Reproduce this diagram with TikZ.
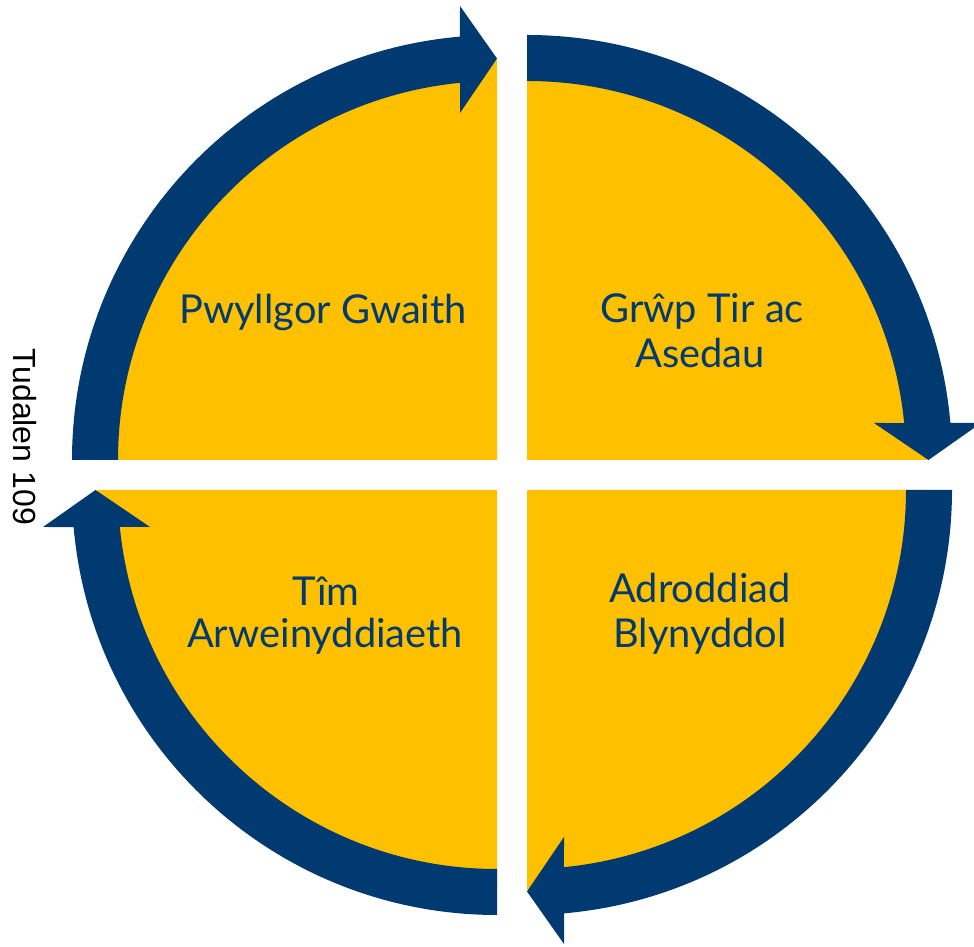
\documentclass[tikz,border=0pt]{standalone}
\usepackage{fontspec}
\setmainfont{Lato}
\newfontfamily\arialfont{Liberation Sans}
\definecolor{ringblue}{HTML}{003A70}
\definecolor{quadyellow}{HTML}{FFC000}
\tikzset{
  lbl/.style={text=ringblue, font=\fontsize{39.8}{45}\selectfont, anchor=base, inner sep=0pt},
  pagelbl/.style={text=black, font=\arialfont\fontsize{32}{38}\selectfont, anchor=base, inner sep=0pt, rotate=-90}
}
\begin{document}
\begin{tikzpicture}[x=1pt,y=1pt]
\useasboundingbox (0,0) rectangle (974,947);
\clip (0,0) rectangle (974,947);
% yellow quadrants
\foreach \cx/\cy/\rot in {497/487/0, 527/487/-90, 527/457/-180, 497/457/-270} {
  \begin{scope}[shift={(\cx,\cy)}, rotate=\rot]
    \fill[quadyellow] (0,0) -- (180:400) arc[start angle=180, end angle=90, radius=400] -- cycle;
  \end{scope}
}
% ring segments with arrowheads
\foreach \cx/\cy/\rot in {497/487/0, 527/487/-90, 527/457/-180, 497/457/-270} {
  \begin{scope}[shift={(\cx,\cy)}, rotate=\rot]
    \fill[ringblue] (180:379) -- (180:425) arc[start angle=180, end angle=95.0, radius=425]
      -- (-37,454) -- (0,401.5) -- (-37,347) -- (95.6:379)
      arc[start angle=95.6, end angle=180, radius=379] -- cycle;
  \end{scope}
}
% labels
\node[lbl] (pg) at (323,623) {Pwyllgor Gwaith};
\node[lbl] (gt1) at (702,624) {Grŵp Tir ac};
\node[lbl] (gt2) at (700,579) {Asedau};
\node[lbl] (ab1) at (700,344) {Adroddiad};
\node[lbl] (ab2) at (700,299) {Blynyddol};
\node[lbl] (ta1) at (326,341) {Tîm};
\node[lbl] (ta2) at (325,299) {Arweinyddiaeth};
\node[pagelbl] (tud) at (13,510.5) {Tudalen 109};
\end{tikzpicture}
\end{document}
